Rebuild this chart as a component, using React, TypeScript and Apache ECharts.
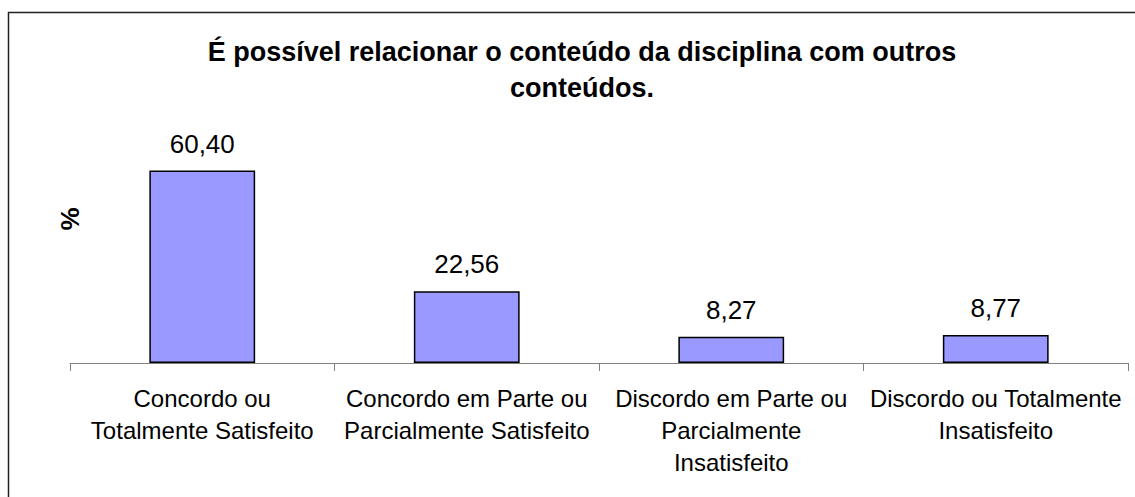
import React, { useEffect, useRef } from "react";
import * as echarts from "echarts";

const categories = [
  "Concordo ou\nTotalmente Satisfeito",
  "Concordo em Parte ou\nParcialmente Satisfeito",
  "Discordo em Parte ou\nParcialmente\nInsatisfeito",
  "Discordo ou Totalmente\nInsatisfeito",
];
const values = [60.4, 22.56, 8.27, 8.77];
const titleText = "É possível relacionar o conteúdo da disciplina com outros\nconteúdos.";
const yAxisName = "%";

const FONT = "'Liberation Sans', Arial, sans-serif";

export default function App() {
  const ref = useRef<HTMLDivElement>(null);
  useEffect(() => {
    if (!ref.current) return;
    const chart = echarts.init(ref.current, null, { renderer: "svg" });
    chart.setOption({
      animation: false,
      backgroundColor: "#ffffff",
      textStyle: { fontFamily: FONT },
      title: {
        text: titleText,
        left: 577,
        top: 29,
        textAlign: "center",
        textStyle: {
          fontSize: 27,
          fontWeight: "bold",
          lineHeight: 36,
          color: "#000",
          fontFamily: FONT,
        },
      },
      graphic: [
        {
          type: "rect",
          shape: { x: 8.5, y: 12.5, width: 1140, height: 500 },
          style: { fill: "none", stroke: "#222", lineWidth: 1.5 },
          silent: true,
        },
        {
          type: "text",
          x: 70,
          y: 219,
          rotation: Math.PI / 2,
          style: {
            text: yAxisName,
            fontSize: 26,
            fontWeight: "bold",
            fontFamily: FONT,
            fill: "#000",
            align: "center",
            verticalAlign: "middle",
          },
        },
      ],
      grid: { left: 70, right: 7, top: 140, bottom: 134, containLabel: false },
      xAxis: {
        type: "category",
        data: categories,
        boundaryGap: true,
        axisLine: { show: true, lineStyle: { color: "#808080", width: 1 } },
        axisTick: { show: true, length: 8, lineStyle: { color: "#808080", width: 1 } },
        axisLabel: {
          interval: 0,
          margin: 19,
          fontSize: 24,
          lineHeight: 32,
          color: "#000",
          fontFamily: FONT,
          align: "center",
        },
      },
      yAxis: {
        type: "value",
        min: 0,
        max: 70,
        show: false,
        splitLine: { show: false },
      },
      series: [
        {
          type: "bar",
          data: values,
          barWidth: "40%",
          itemStyle: { color: "#9999FF", borderColor: "#000", borderWidth: 1.5 },
          label: {
            show: true,
            position: "top",
            distance: 14,
            fontSize: 26,
            color: "#000",
            fontFamily: FONT,
            formatter: (p: any) => Number(p.value).toFixed(2).replace(".", ","),
          },
        },
      ],
    });
    return () => chart.dispose();
  }, []);
  return (
    <div
      ref={ref}
      style={{ position: "absolute", left: 0, top: 0, width: 1135, height: 497 }}
    />
  );
}
